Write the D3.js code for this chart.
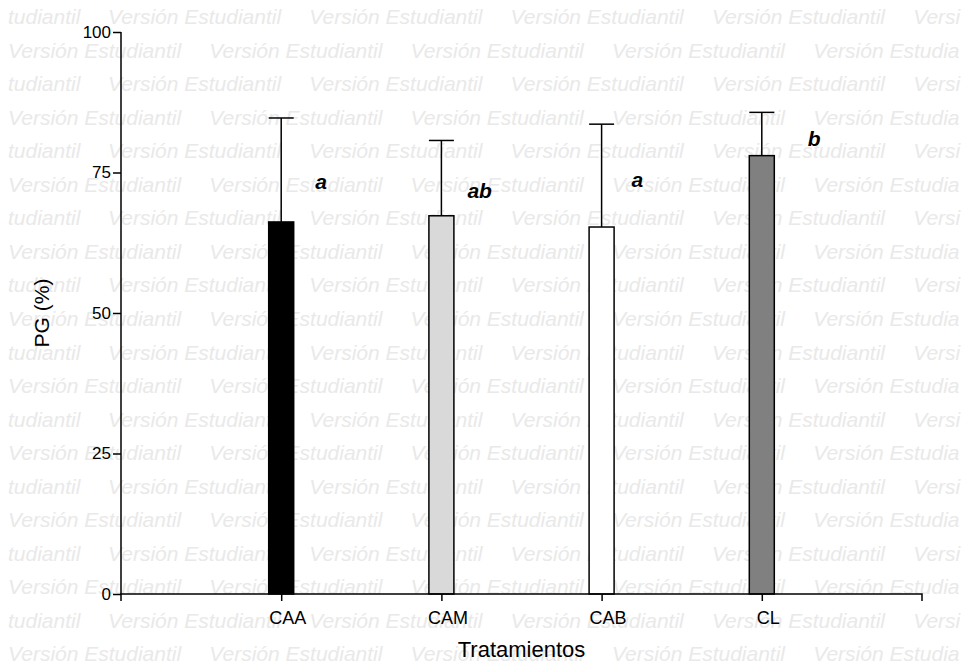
<!DOCTYPE html>
<html>
<head>
<meta charset="utf-8">
<script src="https://cdn.jsdelivr.net/npm/d3@7"></script>
<style>
  html, body { margin: 0; padding: 0; background: #fff; }
  svg { display: block; font-family: "Liberation Sans", Arial, sans-serif; }
</style>
</head>
<body>
<svg id="chart" width="969" height="671"></svg>
<script>
// ---- data ----
const categories = ["CAA", "CAM", "CAB", "CL"];
const means      = [66.2, 67.3, 65.3, 78.0];
const errors     = [18.5, 13.4, 18.3, 7.7];
const letters    = ["a", "ab", "a", "b"];
const fills      = ["#000000", "#d9d9d9", "#ffffff", "#808080"];
const yTicks     = [0, 25, 50, 75, 100];
const yTitle = "PG (%)";
const xTitle = "Tratamientos";
const watermark = "Versión Estudiantil";

const W = 969, H = 671;
const svg = d3.select("#chart");

// ---- watermark (behind everything) ----
const wm = svg.append("g").attr("fill", "#e9e9e9")
  .style("font-style", "italic").style("font-size", "21px");
const step = 201.3;
for (let r = 0; r < 20; r++) {
  const yb = 24 + r * 33.55;
  const items = [];
  if (r % 2 === 0) {
    items.push([8, "tudiantil"]);
    for (let k = 0; k < 4; k++) items.push([108 + k * step, watermark]);
    items.push([108 + 4 * step, "Versi"]);
  } else {
    for (let k = 0; k < 4; k++) items.push([8 + k * step, watermark]);
    items.push([8 + 4 * step, "Versión Estudia"]);
  }
  items.forEach(([xx, t]) => wm.append("text").attr("x", xx).attr("y", yb).text(t));
}

// ---- scales ----
const x = d3.scalePoint().domain(categories).range([121, 922]).padding(1);
const y = d3.scaleLinear().domain([0, 100]).range([594, 32]);
const bw = 25;

// ---- bars ----
const g = svg.append("g");
g.selectAll("rect.bar").data(categories).join("rect")
  .attr("class", "bar")
  .attr("x", d => x(d) - bw / 2)
  .attr("y", (d, i) => y(means[i]))
  .attr("width", bw)
  .attr("height", (d, i) => y(0) - y(means[i]))
  .attr("fill", (d, i) => fills[i])
  .attr("stroke", "#000").attr("stroke-width", 1.5);

// ---- error bars (upper) ----
g.selectAll("line.err").data(categories).join("line")
  .attr("class", "err")
  .attr("x1", d => x(d)).attr("x2", d => x(d))
  .attr("y1", (d, i) => y(means[i]))
  .attr("y2", (d, i) => y(means[i] + errors[i]))
  .attr("stroke", "#000").attr("stroke-width", 1.5);
g.selectAll("line.cap").data(categories).join("line")
  .attr("class", "cap")
  .attr("x1", d => x(d) - bw / 2).attr("x2", d => x(d) + bw / 2)
  .attr("y1", (d, i) => y(means[i] + errors[i]))
  .attr("y2", (d, i) => y(means[i] + errors[i]))
  .attr("stroke", "#000").attr("stroke-width", 1.5);

// ---- significance letters ----
const letterAnchor = [[34, 72], [26, 70.4], [30, 72.5], [46, 79.8]]; // [dx px, y value]
g.selectAll("text.sig").data(categories).join("text")
  .attr("class", "sig")
  .attr("x", (d, i) => x(d) + letterAnchor[i][0])
  .attr("y", (d, i) => y(letterAnchor[i][1]))
  .style("font-weight", "bold").style("font-style", "italic").style("font-size", "21px")
  .text((d, i) => letters[i]);

// ---- y axis ----
const yAxis = svg.append("g").attr("transform", "translate(121,0)")
  .call(d3.axisLeft(y).tickValues(yTicks).tickSize(8).tickPadding(2));
yAxis.select(".domain").attr("d", `M0,${y(0)}V${y(100)}`).attr("stroke-width", 1.5);
yAxis.selectAll(".tick line").attr("stroke-width", 1.5);
yAxis.selectAll(".tick text").style("font-size", "17px").style("font-family", "Liberation Sans, Arial, sans-serif").attr("fill", "#000");

// ---- x axis ----
const xAxis = svg.append("g").attr("transform", `translate(0,${y(0)})`)
  .call(d3.axisBottom(x).tickSize(7).tickPadding(10));
xAxis.select(".domain").attr("d", "M121,7V0H922V7").attr("stroke-width", 1.5);
xAxis.selectAll(".tick line").attr("stroke-width", 1.5);
xAxis.selectAll(".tick text").style("font-size", "18px").style("font-family", "Liberation Sans, Arial, sans-serif").attr("fill", "#000").attr("dx", 6);

// ---- titles ----
svg.append("text").attr("x", (121 + 922) / 2).attr("y", 657)
  .attr("text-anchor", "middle").style("font-size", "22px").text(xTitle);
svg.append("text")
  .attr("transform", `translate(49,${(y(0) + y(100)) / 2}) rotate(-90)`)
  .attr("text-anchor", "middle").style("font-size", "21px").text(yTitle);
</script>
</body>
</html>
